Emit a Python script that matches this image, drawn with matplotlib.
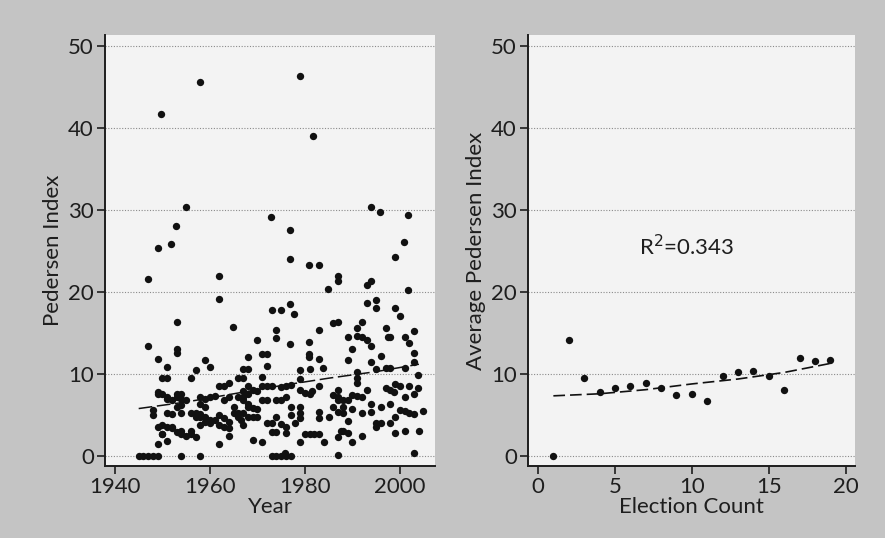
import matplotlib.pyplot as plt

# left panel: Pedersen index by election year
years = [
    1949.8, 1958.0, 1979.0, 1981.8, 1954.9, 1952.9, 1951.9, 1949.0, 1972.9, 1976.8,  # 1-10
    1976.8, 1980.9, 1982.9, 1993.9, 1995.9, 2001.8, 2000.9, 1999.0, 1946.9, 1946.9,  # 11-20
    1961.9, 1961.9, 1953.1, 1953.1, 1953.1, 1964.8, 1973.0, 1975.0, 1974.0, 1974.0,  # 21-30
    1976.8, 1977.8, 1976.8, 1982.9, 1980.9, 1980.9, 1980.9, 1982.9, 1983.9, 1984.9,  # 31-40
    1986.9, 1986.9, 1985.9, 1986.9, 1993.0, 1994.0, 1993.0, 1995.0, 1995.0, 1991.0,  # 41-50
    1992.0, 1989.0, 1989.0, 1990.0, 1991.0, 1992.0, 1993.0, 1994.0, 1996.0, 1994.0,  # 51-60
    1995.0, 1997.0, 1997.5, 1998.0, 1999.0, 2000.0, 2001.8, 2001.0, 2002.0, 2002.9,  # 61-70
    2002.9, 2002.9, 2003.9, 2003.9, 2004.9, 2004.0, 2002.9, 2003.0, 2002.0, 2001.0,  # 71-80
    2001.0, 2000.0, 1999.0, 1999.0, 2000.0, 2001.0, 2002.0, 2003.0, 1999.0, 2001.0,  # 81-90
    1997.0, 1998.0, 1997.0, 1998.0, 1998.8, 1998.0, 1998.0, 1996.0, 1995.0, 1996.0,  # 91-100
    1995.0, 1994.0, 1993.0, 1994.0, 1992.0, 1991.0, 1991.0, 1991.0, 1990.0, 1991.0,  # 101-110
    1990.0, 1992.0, 1992.0, 1989.0, 1989.0, 1990.0, 1988.0, 1987.5, 1987.0, 1987.0,  # 111-120
    1988.0, 1989.0, 1987.0, 1987.0, 1986.0, 1987.0, 1988.0, 1986.0, 1987.0, 1988.0,  # 121-130
    1985.0, 1984.0, 1983.0, 1983.0, 1983.0, 1981.5, 1981.0, 1980.0, 1981.0, 1982.0,  # 131-140
    1983.0, 1980.0, 1979.0, 1979.0, 1979.0, 1979.0, 1979.0, 1979.0, 1979.0, 1981.0,  # 141-150
    1978.0, 1977.0, 1977.0, 1977.0, 1976.0, 1975.0, 1975.0, 1976.0, 1975.0, 1976.0,  # 151-160
    1976.0, 1974.0, 1974.0, 1973.0, 1974.0, 1973.0, 1974.0, 1975.0, 1976.0, 1977.0,  # 161-170
    1975.8, 1972.0, 1973.0, 1972.0, 1973.0, 1971.0, 1972.0, 1972.0, 1971.0, 1971.0,  # 171-180
    1971.0, 1972.0, 1970.0, 1971.0, 1969.0, 1968.0, 1967.0, 1968.0, 1968.0, 1969.0,  # 181-190
    1970.0, 1967.0, 1968.0, 1968.0, 1969.0, 1970.0, 1967.0, 1968.0, 1968.0, 1969.0,  # 191-200
    1970.0, 1966.0, 1967.0, 1966.0, 1967.0, 1966.0, 1967.0, 1967.0, 1965.0, 1965.0,  # 201-210
    1966.0, 1966.5, 1964.0, 1963.0, 1962.0, 1964.0, 1963.0, 1962.0, 1963.0, 1964.0,  # 211-220
    1963.0, 1964.0, 1964.0, 1962.0, 1961.0, 1962.0, 1960.0, 1959.0, 1959.0, 1960.0,  # 221-230
    1960.0, 1958.0, 1959.0, 1958.0, 1959.0, 1960.0, 1961.0, 1958.0, 1959.0, 1958.0,  # 231-240
    1958.0, 1957.0, 1956.0, 1956.0, 1957.0, 1957.0, 1958.0, 1956.0, 1957.0, 1956.0,  # 241-250
    1955.0, 1954.0, 1953.0, 1954.0, 1954.0, 1954.0, 1953.0, 1955.0, 1954.0, 1953.0,  # 251-260
    1953.0, 1954.0, 1952.0, 1952.0, 1952.0, 1951.0, 1951.0, 1951.0, 1952.0, 1951.0,  # 261-270
    1950.0, 1950.0, 1951.0, 1954.0, 1950.0, 1951.0, 1951.0, 1949.0, 1949.0, 1949.0,  # 271-280
    1950.0, 1949.0, 1949.0, 1950.0, 1948.0, 1948.0, 1945.0, 1946.0, 1947.0, 1948.0,  # 281-290
    1949.0,                                                                          # 291
]
pedersen = [
    41.7, 45.6, 46.3, 39.0, 30.3, 28.0, 25.9, 25.3, 29.1, 27.5,  # 1-10
    24.0, 23.3, 23.3, 30.3, 29.8, 29.4, 26.1, 24.3, 21.6, 13.4,  # 11-20
    22.0, 19.1, 16.4, 13.0, 12.6, 15.7, 17.8, 17.8, 15.4, 14.4,  # 21-30
    18.5, 17.3, 13.7, 15.4, 13.9, 12.4, 12.1, 11.8, 10.7, 20.4,  # 31-40
    22.0, 21.3, 16.2, 16.4, 20.8, 21.3, 18.6, 19.0, 18.1, 15.6,  # 41-50
    16.4, 14.5, 11.7, 13.0, 14.6, 14.5, 14.2, 13.4, 12.2, 11.5,  # 51-60
    10.6, 15.6, 14.5, 14.5, 18.0, 17.1, 20.2, 14.5, 13.8, 15.2,  # 61-70
    12.6, 11.5, 9.9, 8.3, 5.5, 3.1, 0.4, 7.6, 8.5, 10.8,         # 71-80
    7.2, 8.6, 8.8, 4.8, 5.6, 5.5, 5.2, 5.1, 2.8, 3.1,            # 81-90
    10.8, 10.8, 8.3, 8.1, 7.8, 6.4, 4.0, 6.0, 4.0, 4.0,          # 91-100
    3.6, 5.4, 8.0, 6.4, 7.2, 10.2, 9.5, 8.9, 7.4, 7.3,           # 101-110
    5.7, 5.3, 2.5, 4.3, 2.8, 1.7, 3.1, 3.1, 2.3, 0.1,            # 111-120
    6.0, 6.8, 8.1, 7.2, 7.4, 6.8, 6.9, 6.0, 5.4, 5.3,            # 121-130
    4.8, 1.7, 5.4, 4.6, 8.5, 7.9, 7.6, 7.7, 2.7, 2.7,            # 131-140
    2.7, 2.7, 1.7, 6.0, 5.2, 4.6, 10.5, 9.4, 8.1, 10.6,          # 141-150
    4.0, 6.0, 5.0, 8.7, 8.6, 8.4, 6.9, 7.2, 3.9, 3.6,            # 151-160
    2.8, 6.8, 4.8, 2.9, 2.9, 0.0, 0.0, 0.0, 0.0, 0.0,            # 161-170
    0.4, 8.5, 8.5, 4.0, 4.0, 12.5, 12.5, 11.0, 9.7, 8.5,         # 171-180
    6.8, 6.8, 14.2, 1.7, 2.0, 12.1, 10.6, 10.6, 8.5, 8.1,        # 181-190
    7.9, 7.9, 7.6, 6.0, 5.9, 5.8, 6.8, 6.4, 4.8, 4.8,            # 191-200
    4.8, 9.5, 9.5, 7.2, 7.2, 5.2, 5.2, 3.8, 6.0, 5.2,            # 201-210
    4.8, 4.4, 8.9, 8.5, 8.5, 7.2, 6.8, 5.0, 4.6, 4.2,            # 211-220
    3.6, 3.4, 2.4, 1.5, 4.4, 3.8, 10.9, 11.7, 4.8, 4.4,          # 221-230
    4.0, 6.4, 6.0, 7.2, 7.0, 7.2, 7.3, 5.1, 4.2, 3.8,            # 231-240
    0.0, 10.5, 9.5, 5.2, 5.2, 4.8, 4.8, 2.7, 2.3, 3.1,           # 241-250
    2.5, 2.7, 2.9, 3.1, 6.2, 5.2, 6.0, 6.8, 7.0, 7.2,            # 251-260
    7.6, 7.6, 6.8, 3.6, 3.4, 7.2, 7.0, 5.2, 5.1, 3.6,            # 261-270
    3.8, 2.7, 1.9, 0.0, 9.5, 9.5, 10.9, 11.8, 7.8, 7.6,          # 271-280
    7.6, 3.6, 1.5, 2.7, 5.0, 5.6, 0.0, 0.0, 0.0, 0.0,            # 281-290
    0.0,                                                         # 291
]
# fitted line
fit_years = [1945, 1955, 1965, 1975, 1985, 1995, 2004]
fit_pedersen = [5.8, 6.6, 7.6, 8.6, 9.5, 10.3, 11.2]

# right panel: average Pedersen index by election count
election_count = list(range(1, 20))
avg_pedersen = [0.0, 14.1, 9.5, 7.8, 8.3, 8.6, 8.9, 8.3, 7.4, 7.6,
                6.7, 9.8, 10.3, 10.4, 9.75, 8.1, 11.9, 11.6, 11.7]
fit_count = [1, 4, 7, 10, 13, 16, 19]
fit_avg = [7.35, 7.6, 8.1, 8.8, 9.4, 10.2, 11.3]
r2_label = 'R$^2$=0.343'

plt.rcParams['font.family'] = ['Lato', 'DejaVu Sans']
page = '#c4c4c4'
panel = '#f3f3f3'
ink = '#1e1e1e'

fig = plt.figure(figsize=(8.85, 5.38), dpi=100, facecolor=page)
ax1 = fig.add_axes([0.1186, 0.1338, 0.373, 0.801])
ax2 = fig.add_axes([0.5966, 0.1338, 0.3695, 0.801])

for ax in (ax1, ax2):
    ax.set_facecolor(panel)
    ax.set_ylim(-1.2, 51.3)
    ax.set_yticks([0, 10, 20, 30, 40, 50])
    ax.grid(axis='y', color='#8a8a8a', linestyle=(0, (1, 1.5)), linewidth=0.8)
    ax.set_axisbelow(True)
    for s in ('top', 'right'):
        ax.spines[s].set_visible(False)
    for s in ('left', 'bottom'):
        ax.spines[s].set_color(ink)
        ax.spines[s].set_linewidth(1.4)
    ax.tick_params(labelsize=16, colors=ink, length=6, width=1.2, pad=2)

ax1.scatter(years, pedersen, s=28, color='#111111', zorder=3, linewidths=0)
ax1.plot(fit_years, fit_pedersen, color='#111111', linewidth=1.1,
         linestyle=(0, (9, 3)), zorder=2)
ax1.set_xlim(1937.9, 2007.4)
ax1.set_xticks([1940, 1960, 1980, 2000])
ax1.set_xlabel('Year', fontsize=16, color=ink, labelpad=0)
ax1.set_ylabel('Pedersen Index', fontsize=16, color=ink, labelpad=4)

ax2.scatter(election_count, avg_pedersen, s=28, color='#111111', zorder=3, linewidths=0)
ax2.plot(fit_count, fit_avg, color='#111111', linewidth=1.2,
         linestyle=(0, (7, 3)), zorder=2)
ax2.set_xlim(-0.65, 20.6)
ax2.set_xticks([0, 5, 10, 15, 20])
ax2.set_xlabel('Election Count', fontsize=16, color=ink, labelpad=0)
ax2.set_ylabel('Average Pedersen Index', fontsize=16, color=ink, labelpad=4)
ax2.text(9.65, 25.5, r2_label, fontsize=16, color=ink, ha='center', va='center')

fig.savefig('out.png', dpi=100, facecolor=page)
